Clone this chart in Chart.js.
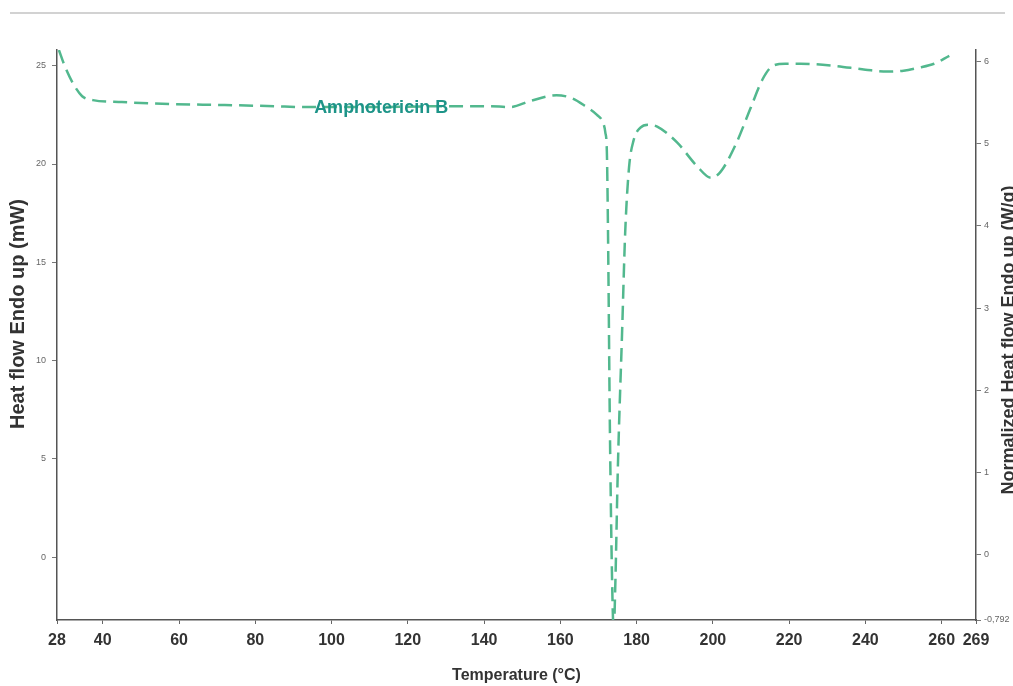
<!DOCTYPE html>
<html lang="en">

<head>
  <meta charset="UTF-8" />
  <title>Amphotericin B DSC</title>
  <script src="https://cdn.jsdelivr.net/npm/chart.js"></script>
  <style>
    body { margin: 0; background: #fff; }
    #wrap { position: relative; width: 1013px; height: 686px; }
    #topline { position: absolute; left: 10px; top: 12px; width: 995px; height: 2px; background: #d2d2d2; }
  </style>
</head>

<body>
  <div id="wrap">
    <div id="topline"></div>
    <canvas id="myChart" width="1013" height="686"></canvas>
  </div>

  <script>
    /* data */
    const temperature = [28.5, 30, 32.2, 34.6, 37.4, 45, 58, 72, 85, 92.5, 110, 131, 141, 147, 152, 159, 163, 166.5,
      169.6, 171.2, 171.8, 172.2, 172.5, 173, 173.6, 174.0, 174.4, 175.1, 176.2, 177, 178, 179.2, 181, 183, 185.4,
      190.6, 195.8, 199.5, 202, 206, 210, 213, 215.8, 219, 223, 231.5, 240, 245.7, 250, 254, 258, 262];
    const heatFlow = [25.8, 25.0, 24.1, 23.45, 23.25, 23.15, 23.05, 23.0, 22.94, 22.9, 22.9, 22.94, 22.94, 22.9, 23.2,
      23.5, 23.35, 22.95, 22.5, 22.1, 21.6, 20.6, 16.5, 6.4, -1.5, -3.8, -1.5, 4.7, 11.5, 16.5, 19.8, 21.2, 21.85, 22.0,
      21.9, 21.1, 19.9, 19.3, 19.6, 21.0, 22.9, 24.3, 25.0, 25.1, 25.1, 25.0, 24.8, 24.7, 24.75, 24.9, 25.1, 25.5];
    const seriesLabel = "Amphotericin B";
    const xTicks = [28, 40, 60, 80, 100, 120, 140, 160, 180, 200, 220, 240, 260, 269];
    const leftTicks = [0, 5, 10, 15, 20, 25];
    const rightTicks = [-0.792, 0, 1, 2, 3, 4, 5, 6];

    const sans = "'Liberation Sans', Arial, sans-serif";

    // both side titles read bottom-to-top in the original, so they are drawn by hand
    const sideTitles = {
      id: "sideTitles",
      afterDraw(chart) {
        const ctx = chart.ctx;
        const a = chart.chartArea;

        function vertical(text, x, y, size) {
          ctx.save();
          ctx.translate(x, y);
          ctx.rotate(-Math.PI / 2);
          ctx.font = "bold " + size + "px " + sans;
          ctx.fillStyle = "#333";
          ctx.textAlign = "center";
          ctx.textBaseline = "middle";
          ctx.fillText(text, 0, 0);
          ctx.restore();
        }
        vertical("Heat flow Endo up (mW)", 18, 314, 20);
        vertical("Normalized Heat flow Endo up (W/g)", 1009, (a.top + a.bottom) / 2 + 5, 18);

        // series name sitting on the curve
        const xs = chart.scales.x, ys = chart.scales.y;
        ctx.save();
        ctx.font = "bold 18px " + sans;
        ctx.fillStyle = "#1d9488";
        ctx.textAlign = "center";
        ctx.textBaseline = "middle";
        ctx.fillText(seriesLabel, xs.getPixelForValue(113), ys.getPixelForValue(22.85));
        ctx.restore();
      },
    };

    var ctx = document.getElementById("myChart").getContext("2d");
    var chart = new Chart(ctx, {
      type: "line",
      data: {
        datasets: [
          {
            label: seriesLabel,
            data: temperature.map((t, i) => ({ x: t, y: heatFlow[i] })),
            borderColor: "#52b88e",
            borderWidth: 2.5,
            borderDash: [14, 7],
            pointRadius: 0,
            fill: false,
            cubicInterpolationMode: "monotone",
            yAxisID: "y",
          },
        ],
      },
      options: {
        responsive: false,
        animation: false,
        layout: { padding: { top: 50, left: 0, right: 0, bottom: 0 } },
        plugins: { legend: { display: false }, tooltip: { enabled: false } },
        scales: {
          x: {
            type: "linear",
            min: 28,
            max: 269,
            afterBuildTicks: (s) => { s.ticks = xTicks.map((v) => ({ value: v })); },
            afterFit: (s) => { s.height = 66; },
            border: { color: "#555", width: 1.5 },
            grid: { drawOnChartArea: false, tickLength: 4, tickColor: "#666" },
            ticks: {
              autoSkip: false, maxRotation: 0, padding: 7, color: "#333",
              font: { family: sans, size: 16, weight: "bold" },
            },
            title: {
              display: true, text: "Temperature (°C)", color: "#333",
              padding: { top: 0, bottom: 1 },
              font: { family: sans, size: 16, weight: "bold" },
            },
          },
          y: {
            position: "left",
            min: -3.2,
            max: 25.8,
            afterBuildTicks: (s) => { s.ticks = leftTicks.map((v) => ({ value: v })); },
            afterFit: (s) => { s.width = 57; },
            border: { color: "#555", width: 1.5 },
            grid: { drawOnChartArea: false, tickLength: 5, tickColor: "#777" },
            ticks: { padding: 6, color: "#666", font: { family: sans, size: 9 } },
          },
          y2: {
            position: "right",
            min: -0.792,
            max: 6.14,
            afterBuildTicks: (s) => { s.ticks = rightTicks.map((v) => ({ value: v })); },
            afterFit: (s) => { s.width = 37; },
            border: { color: "#555", width: 1.5 },
            grid: { drawOnChartArea: false, tickLength: 5, tickColor: "#777" },
            ticks: {
              padding: 3, color: "#666", font: { family: sans, size: 9 },
              callback: (v) => (v === -0.792 ? "-0,792" : v),
            },
          },
        },
      },
      plugins: [sideTitles],
    });
  </script>
</body>

</html>
